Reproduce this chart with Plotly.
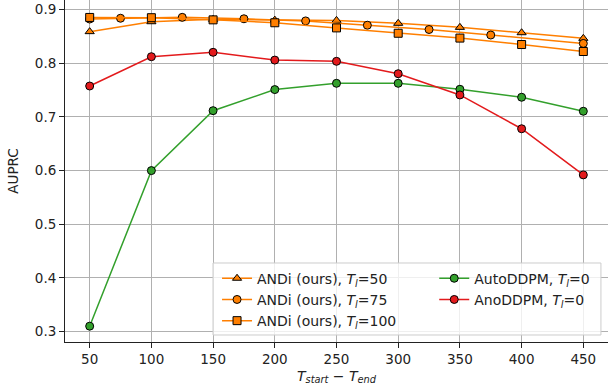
import plotly.graph_objects as go

# ---- data ----
x_main = [50, 100, 150, 200, 250, 300, 350, 400, 450]
andi50 = [0.859, 0.8775, 0.882, 0.8805, 0.880, 0.8745, 0.867, 0.857, 0.8465]
x_andi75 = [50, 75, 125, 175, 225, 275, 325, 375, 450]
andi75 = [0.8825, 0.884, 0.8857, 0.883, 0.879, 0.871, 0.863, 0.8527, 0.837]
andi100 = [0.8855, 0.885, 0.881, 0.8756, 0.866, 0.856, 0.847, 0.835, 0.822]
autoddpm = [0.310, 0.600, 0.7117, 0.751, 0.7627, 0.7627, 0.7516, 0.7367, 0.7106]
anoddpm = [0.7577, 0.8123, 0.8205, 0.806, 0.8037, 0.7806, 0.741, 0.678, 0.592]
x_ticks = [50, 100, 150, 200, 250, 300, 350, 400, 450]
y_ticks = [0.3, 0.4, 0.5, 0.6, 0.7, 0.8, 0.9]

ORANGE = "#ff7f00"
GREEN = "#33a02c"
RED = "#e31a1c"
FONT = "DejaVu Sans"
FS = 13.5
LFS = 14

TL = "<i>T</i><sub><i>l</i></sub>"

fig = go.Figure()

def add(x, y, name, color, symbol, legend, msize=8):
    fig.add_trace(go.Scatter(
        x=x, y=y, name=name, mode="lines+markers",
        line=dict(color=color, width=1.5),
        marker=dict(symbol=symbol, size=msize, color=color,
                    line=dict(color="black", width=1)),
        legend=legend,
    ))

add(x_main, andi50, f"ANDi (ours), {TL}=50", ORANGE, "triangle-up", "legend", 8)
add(x_andi75, andi75, f"ANDi (ours), {TL}=75", ORANGE, "circle", "legend", 8)
add(x_main, andi100, f"ANDi (ours), {TL}=100", ORANGE, "square", "legend", 8)
add(x_main, autoddpm, f"AutoDDPM, {TL}=0", GREEN, "circle", "legend2", 8)
add(x_main, anoddpm, f"AnoDDPM, {TL}=0", RED, "circle", "legend2", 8)

axis_common = dict(
    showgrid=True, gridcolor="#b0b0b0", gridwidth=1,
    showline=True, linecolor="#222222", linewidth=1,
    ticks="outside", ticklen=5, tickcolor="#222222", tickwidth=1,
    tickfont=dict(family=FONT, size=FS, color="#222222"),
    zeroline=False, mirror=False,
)

fig.update_layout(
    width=610, height=387,
    margin=dict(l=65, r=2, t=0, b=45),
    paper_bgcolor="white", plot_bgcolor="white",
    font=dict(family=FONT, size=FS, color="#222222"),
    xaxis=dict(range=[30, 470], tickvals=x_ticks,
               title=dict(text="<i>T</i><sub><i>start</i></sub> − <i>T</i><sub><i>end</i></sub>",
                          font=dict(family=FONT, size=LFS), standoff=4),
               **axis_common),
    yaxis=dict(range=[0.2805, 0.918], tickvals=y_ticks,
               ticktext=[f"{v:.1f}" for v in y_ticks],
               title=dict(text="AUPRC", font=dict(family=FONT, size=FS), standoff=13),
               **axis_common),
    legend=dict(x=0.28, y=0.232, xanchor="left", yanchor="top",
                bgcolor="rgba(0,0,0,0)", borderwidth=0,
                font=dict(family=FONT, size=LFS), tracegroupgap=0,
                itemwidth=30),
    legend2=dict(x=0.68, y=0.232, xanchor="left", yanchor="top",
                 bgcolor="rgba(0,0,0,0)", borderwidth=0,
                 font=dict(family=FONT, size=LFS), tracegroupgap=0,
                 itemwidth=30),
    shapes=[dict(type="rect", xref="paper", yref="paper",
                 x0=0.2726, x1=0.987, y0=0.0205, y1=0.231,
                 line=dict(color="#cccccc", width=1),
                 fillcolor="rgba(255,255,255,0.8)", layer="above")],
)

fig.write_html("out.html")
